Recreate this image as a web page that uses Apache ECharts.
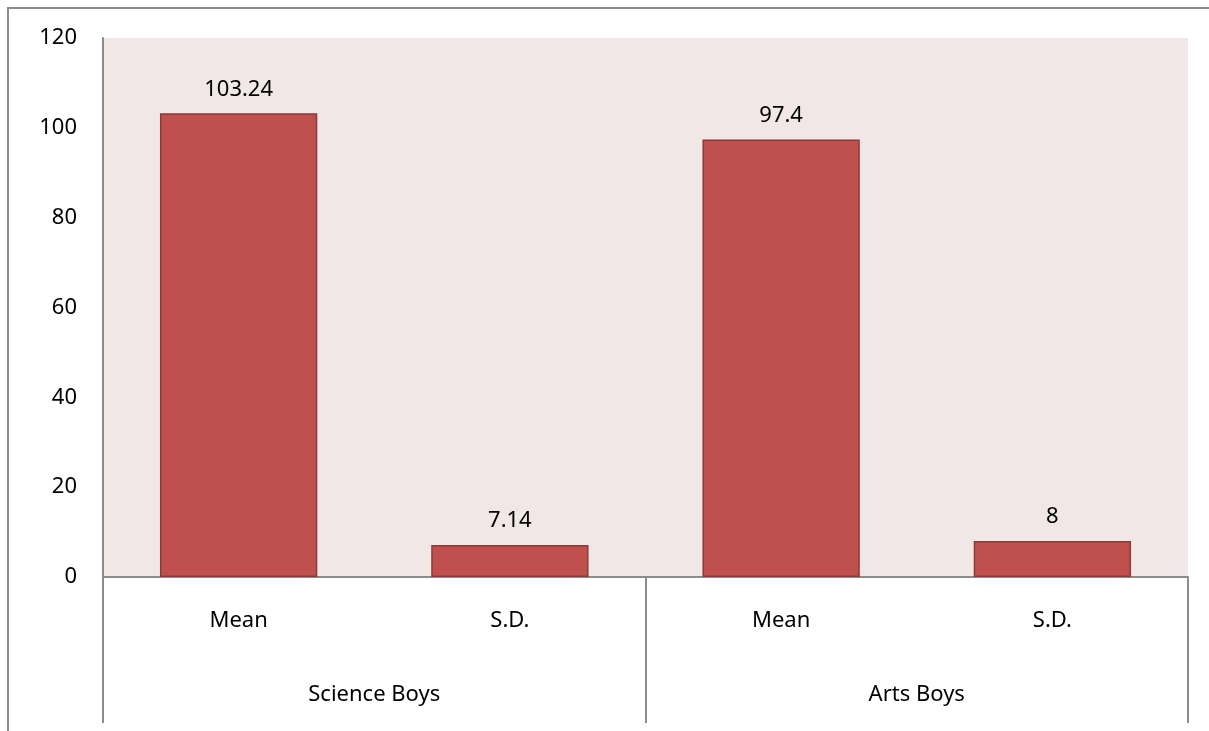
<!DOCTYPE html>
<html>
<head>
<meta charset="utf-8">
<script src="https://cdn.jsdelivr.net/npm/echarts@6/dist/echarts.min.js"></script>
<style>
  html, body { margin: 0; padding: 0; background: #fff; }
  #main { width: 1209px; height: 731px; }
</style>
</head>
<body>
<div id="main"></div>
<script>
// chart data
var subCategories = ['Mean', 'S.D.', 'Mean', 'S.D.'];
var groups = ['Science Boys', 'Arts Boys'];
var values = [103.24, 7.14, 97.4, 8];
var yTicks = { min: 0, max: 120, interval: 20 };

var chart = echarts.init(document.getElementById('main'));
var font = 'Noto Sans';

var option = {
  animation: false,
  textStyle: { fontFamily: font },
  // outer chart border (runs off the page on right and bottom)
  graphic: [{
    type: 'rect',
    shape: { x: 8, y: 8, width: 1400, height: 900 },
    style: { fill: 'none', stroke: '#8c8c8c', lineWidth: 2 },
    z: -1
  }],
  grid: {
    left: 103, right: 21, top: 38, bottom: 154,
    show: true, backgroundColor: '#F2E7E7', borderWidth: 0
  },
  xAxis: [{
    type: 'category',
    data: subCategories,
    axisLine: { lineStyle: { color: '#8c8c8c', width: 2 } },
    axisTick: { show: false },
    axisLabel: { color: '#000', fontSize: 22, margin: 33, fontFamily: font }
  }, {
    type: 'category',
    data: groups,
    position: 'bottom',
    axisLine: { show: false },
    axisTick: { show: true, length: 146, lineStyle: { color: '#8c8c8c', width: 2 } },
    axisLabel: { color: '#000', fontSize: 22, margin: 107, fontFamily: font },
    splitLine: { show: false }
  }],
  yAxis: {
    type: 'value',
    min: yTicks.min, max: yTicks.max, interval: yTicks.interval,
    axisLine: { show: true, lineStyle: { color: '#8c8c8c', width: 2 } },
    axisTick: { show: false },
    splitLine: { show: false },
    axisLabel: { color: '#000', fontSize: 22, margin: 26, fontFamily: font }
  },
  series: [{
    type: 'bar',
    xAxisIndex: 0,
    data: values,
    barWidth: '58%',
    itemStyle: { color: '#C0504D', borderColor: '#8C3A38', borderWidth: 1.5 },
    label: {
      show: true, position: 'top', distance: 13,
      color: '#000', fontSize: 22, fontFamily: font
    }
  }]
};

chart.setOption(option);
</script>
</body>
</html>
